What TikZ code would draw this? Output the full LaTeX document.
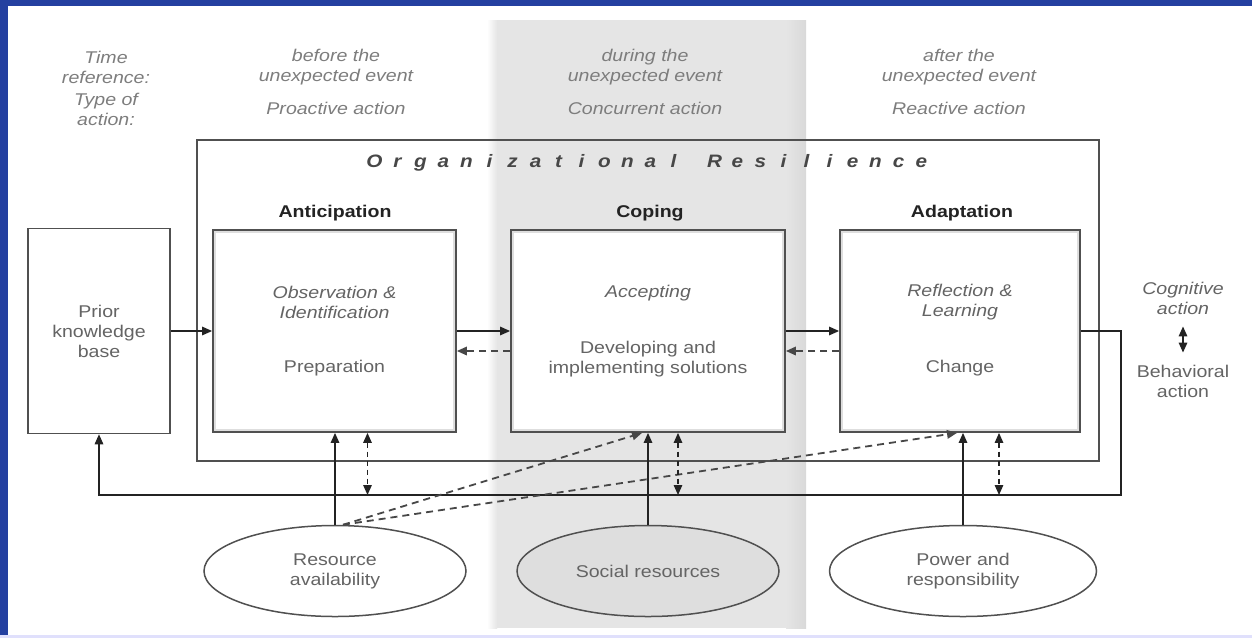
\documentclass[tikz,border=0pt]{standalone}
\usepackage{fontspec}
\setmainfont{Liberation Sans}[FakeStretch=1.15]
\usetikzlibrary{arrows.meta,shapes.geometric}

\definecolor{frameblue}{RGB}{36,64,160}
\definecolor{hdr}{RGB}{125,125,125}
\definecolor{txt}{RGB}{100,100,100}
\definecolor{edge}{RGB}{80,80,80}
\definecolor{ink}{RGB}{35,35,35}
\definecolor{band}{RGB}{229,229,229}

\newcommand\orgletter[1]{\makebox[23pt][c]{#1}}

\tikzset{
  hdrtext/.style={text=hdr, font=\fontsize{17}{20}\selectfont\itshape, align=center, inner sep=0pt},
  bodytext/.style={text=txt, font=\fontsize{17}{20}\selectfont, align=center, inner sep=0pt},
  bodyital/.style={bodytext, font=\fontsize{17}{20}\selectfont\itshape},
  stagelabel/.style={text=ink, font=\fontsize{17}{20}\selectfont\bfseries, inner sep=0pt},
  stagebox/.style={draw=edge, line width=1.8pt, fill=white, inner sep=0pt},
  inset/.style={draw=black!13, line width=2.5pt},
  resource/.style={ellipse, draw=edge, line width=1.5pt, fill=white, inner sep=0pt,
    minimum height=91pt, text=txt, font=\fontsize{17}{20}\selectfont, align=center},
  tip/.tip={Triangle[length=10pt,width=8.5pt]},
  flow/.style={draw=ink, line width=1.4pt, -tip},
  back/.style={flow, draw=black!72, line width=1.8pt, dash pattern=on 7pt off 5pt},
  mutual/.style={draw=ink, line width=1.4pt, dash pattern=on 5pt off 4pt, tip-tip},
}

\begin{document}
\begin{tikzpicture}[x=1pt,y=-1pt]
\useasboundingbox (0,0) rectangle (1252,638);
\fill[white] (0,0) rectangle (1252,638);

% blue page frame
\fill[frameblue] (0,0) rectangle (8,638);
\fill[frameblue] (0,0) rectangle (1252,6);
\fill[black!8!blue!12] (0,635) rectangle (1252,638);

% shaded "during" column
\fill[band] (497,20) rectangle (806,628);
\shade[left color=white, right color=band] (487,20) rectangle (497,628);
\shade[left color=band, right color=black!15] (786,20) rectangle (806,628);

% time reference and type of action headers
\node[hdrtext] (timeref) at (106,67) {Time\\reference:};
\node[hdrtext] (acttype) at (106,109) {Type of\\action:};
\node[hdrtext] (before) at (336,67) {before the\\unexpected event};
\node[hdrtext] (proact) at (336,108) {Proactive action};
\node[hdrtext] (during) at (645,67) {during the\\unexpected event};
\node[hdrtext] (concur) at (645,108) {Concurrent action};
\node[hdrtext] (after) at (959,67) {after the\\unexpected event};
\node[hdrtext] (react) at (959,108) {Reactive action};

% organizational resilience frame
\node[draw=edge, line width=1.6pt, minimum width=902pt, minimum height=321pt, inner sep=0pt]
  (org) at (648,300.5) {};
\node[text=black!72, font=\fontsize{18}{20}\selectfont\bfseries\itshape, inner sep=0pt] (title) at (648,163)
  {\orgletter{O}\orgletter{r}\orgletter{g}\orgletter{a}\orgletter{n}\orgletter{i}\orgletter{z}\orgletter{a}\orgletter{t}\orgletter{i}\orgletter{o}\orgletter{n}\orgletter{a}\orgletter{l}\hspace{18pt}\orgletter{R}\orgletter{e}\orgletter{s}\orgletter{i}\orgletter{l}\orgletter{i}\orgletter{e}\orgletter{n}\orgletter{c}\orgletter{e}};

% prior knowledge
\node[stagebox, line width=1.5pt, minimum width=142pt, minimum height=205pt] (prior) at (99,331) {};
\node[bodytext] (priortxt) at (99,331) {Prior\\knowledge\\base};

% three stages
\node[stagebox, minimum width=243pt, minimum height=202pt] (ant) at (334.5,331) {};
\node[stagebox, minimum width=274pt, minimum height=202pt] (cop) at (648,331) {};
\node[stagebox, minimum width=240pt, minimum height=202pt] (ada) at (960,331) {};
\foreach \b in {ant,cop,ada}
  \draw[inset] ([shift={(3pt,-3pt)}]\b.north west) rectangle ([shift={(-3pt,3pt)}]\b.south east);

\node[stagelabel] (antlbl) at (335,213) {Anticipation};
\node[stagelabel] (coplbl) at (650,213) {Coping};
\node[stagelabel] (adalbl) at (962,213) {Adaptation};

\node[bodyital] (obs) at (334.5,302.5) {Observation \&\\Identification};
\node[bodytext] (prep) at (334.5,368) {Preparation};
\node[bodyital] (acc) at (648,293) {Accepting};
\node[bodytext] (dev) at (648,359) {Developing and\\implementing solutions};
\node[bodyital] (refl) at (960,302.5) {Reflection \&\\Learning};
\node[bodytext] (chg) at (960,368) {Change};

% cognitive / behavioral legend
\node[bodyital] (cog) at (1183,298) {Cognitive\\action};
\node[bodytext] (beh) at (1183,381) {Behavioral\\action};
\draw[draw=ink, line width=1.6pt, tip-tip] ([yshift=-12pt]cog.south) -- ([yshift=12pt]beh.north);

% resources
\node[resource, minimum width=262pt] (res) at (335,571) {Resource\\availability};
\node[resource, minimum width=262pt, fill=black!13] (soc) at (648,571) {Social resources};
\node[resource, minimum width=267pt] (pow) at (963,571) {Power and\\responsibility};

% flows between stages
\draw[flow] (prior.east) -- (ant.west);
\draw[flow] (ant.east) -- (cop.west);
\draw[back] ([yshift=-20pt]cop.west) -- ([yshift=-20pt]ant.east);
\draw[flow] (cop.east) -- (ada.west);
\draw[back] ([yshift=-20pt]ada.west) -- ([yshift=-20pt]cop.east);

% feedback loop to prior knowledge
\coordinate (fbR) at (1121,495);
\draw[flow] (ada.east) -| (fbR) -| (prior.south);

% resources feeding the stages
\draw[flow] (res.north) -- (res.north |- ant.south);
\draw[flow] (soc.north) -- (soc.north |- cop.south);
\draw[flow] (pow.north) -- (pow.north |- ada.south);

\coordinate (rd) at ([xshift=8pt]res.north);
\draw[back] (rd) -- ([xshift=-6pt]cop.south);
\draw[back] (rd) -- ([xshift=-3pt]ada.south);

% exchange between stages and the feedback loop
\draw[mutual] ([xshift=33pt]ant.south) -- ([xshift=33pt]ant.south |- fbR);
\draw[mutual] ([xshift=30pt]cop.south) -- ([xshift=30pt]cop.south |- fbR);
\draw[mutual] ([xshift=39pt]ada.south) -- ([xshift=39pt]ada.south |- fbR);
\end{tikzpicture}
\end{document}
